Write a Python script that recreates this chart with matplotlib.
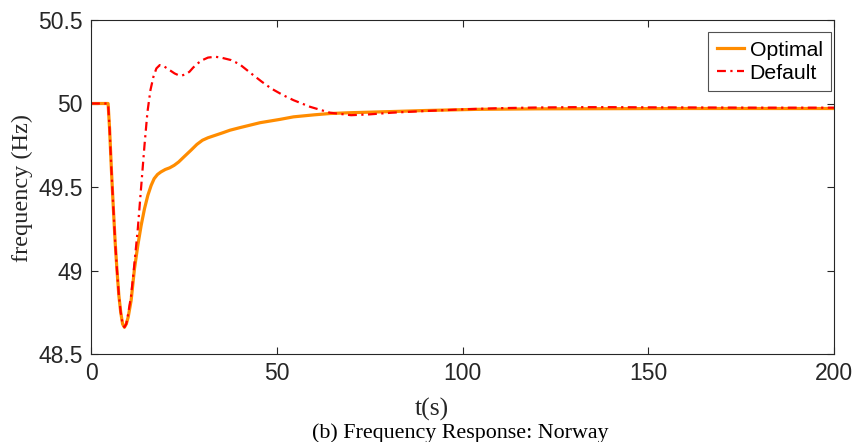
import matplotlib
matplotlib.use("Agg")
import matplotlib.pyplot as plt

# Frequency response after a disturbance (Norway), two controller settings
t_optimal = [0, 4.6, 5.0, 5.5, 6.0, 6.5, 7.0, 7.5, 8.0, 8.5, 9.0, 9.5, 10.0, 10.8,
             11.7, 12.6, 13.5, 14.4, 15.3, 16.2, 17.0, 17.9, 18.8, 20.0, 21.2,
             22.4, 23.6, 25.0, 26.9, 28.5, 30.0, 31.5, 33.5, 35.5, 37.4, 40.0,
             45.5, 50.9, 54.5, 60.0, 64.3, 70.0, 81.3, 90.0, 103.8, 120.0,
             140.0, 160.0, 180.0, 200.0]
f_optimal = [50.0, 50.0, 49.85, 49.6, 49.38, 49.17, 49.0, 48.85, 48.75, 48.68,
             48.66, 48.68, 48.72, 48.82, 49.01, 49.15, 49.27, 49.37, 49.45,
             49.51, 49.55, 49.575, 49.59, 49.605, 49.615, 49.63, 49.65, 49.68,
             49.72, 49.755, 49.78, 49.795, 49.81, 49.825, 49.84, 49.855, 49.885,
             49.905, 49.92, 49.932, 49.94, 49.945, 49.952, 49.958, 49.965,
             49.968, 49.969, 49.97, 49.97, 49.97]

t_default = [0, 4.6, 5.0, 5.5, 6.0, 6.5, 7.0, 7.5, 8.0, 8.5, 9.0, 9.5, 10.0, 10.8,
             11.5, 12.6, 13.5, 14.4, 15.2, 16.0, 16.8, 17.6, 18.5, 19.5, 20.5,
             21.5, 22.5, 23.5, 24.5, 25.5, 26.5, 27.5, 28.7, 30.0, 31.5, 33.4,
             35.0, 37.7, 40.0, 43.1, 46.0, 48.5, 51.7, 54.5, 59.0, 64.3, 70.0,
             75.0, 81.0, 90.0, 100.0, 110.0, 120.0, 130.0, 140.0, 150.0, 165.0,
             180.0, 200.0]
f_default = [50.0, 50.0, 49.85, 49.6, 49.38, 49.17, 49.0, 48.85, 48.75, 48.68,
             48.66, 48.68, 48.74, 48.85, 49.0, 49.25, 49.5, 49.75, 49.95, 50.08,
             50.16, 50.21, 50.23, 50.225, 50.21, 50.195, 50.18, 50.17, 50.168,
             50.175, 50.19, 50.215, 50.24, 50.26, 50.275, 50.28, 50.275, 50.26,
             50.235, 50.18, 50.13, 50.09, 50.05, 50.02, 49.98, 49.945, 49.93,
             49.935, 49.945, 49.955, 49.965, 49.972, 49.976, 49.978, 49.978,
             49.977, 49.976, 49.975, 49.975]

x_ticks = [0, 50, 100, 150, 200]
y_ticks = [48.5, 49, 49.5, 50, 50.5]
y_tick_labels = ["48.5", "49", "49.5", "50", "50.5"]

sans = ["Liberation Sans", "DejaVu Sans"]
serif = ["Liberation Serif", "DejaVu Serif"]
axis_grey = "#262626"

W, H = 855, 442
fig = plt.figure(figsize=(W / 100, H / 100), dpi=100)
ax = fig.add_axes([91 / W, 1 - 354 / H, (834 - 91) / W, (354 - 20) / H])

ax.plot(t_optimal, f_optimal, color="#FF8C00", lw=2.3, label="Optimal")
ax.plot(t_default, f_default, color="#FF0000", lw=1.6,
        linestyle=(0, (4.0, 2.0, 1.0, 2.0)), label="Default")

ax.set_xlim(0, 200)
ax.set_ylim(48.5, 50.5)
ax.set_xticks(x_ticks)
ax.set_yticks(y_ticks)
ax.set_yticklabels(y_tick_labels)

for s in ax.spines.values():
    s.set_color(axis_grey)
    s.set_linewidth(0.8)
ax.tick_params(direction="in", top=True, right=True, length=5, width=0.8,
               color=axis_grey, labelcolor=axis_grey, labelsize=16.5, pad=6)
for lab in ax.get_xticklabels() + ax.get_yticklabels():
    lab.set_family(sans)

fig.text(22 / W, 1 - 188 / H, "frequency (Hz)", rotation=90, ha="center",
         va="center", family=serif, fontsize=17.5, color=axis_grey)
fig.text(432 / W, 1 - 409 / H, "t(s)", ha="center", va="center",
         family=serif, fontsize=18.5, color=axis_grey)
fig.text(460 / W, 1 - 438 / H, "(b) Frequency Response: Norway",
         ha="center", va="baseline", family=serif, fontsize=15.8, color="black")

leg = ax.legend(loc="upper right", bbox_to_anchor=(831 / W, 1 - 32 / H),
                bbox_transform=fig.transFigure,
                prop={"family": sans, "size": 15.3},
                frameon=True, fancybox=False, edgecolor=axis_grey,
                handlelength=1.3, handletextpad=0.25, borderpad=0.4,
                labelspacing=0.2, borderaxespad=0.0)
leg.get_frame().set_linewidth(0.8)

fig.savefig("out.png", dpi=100)
